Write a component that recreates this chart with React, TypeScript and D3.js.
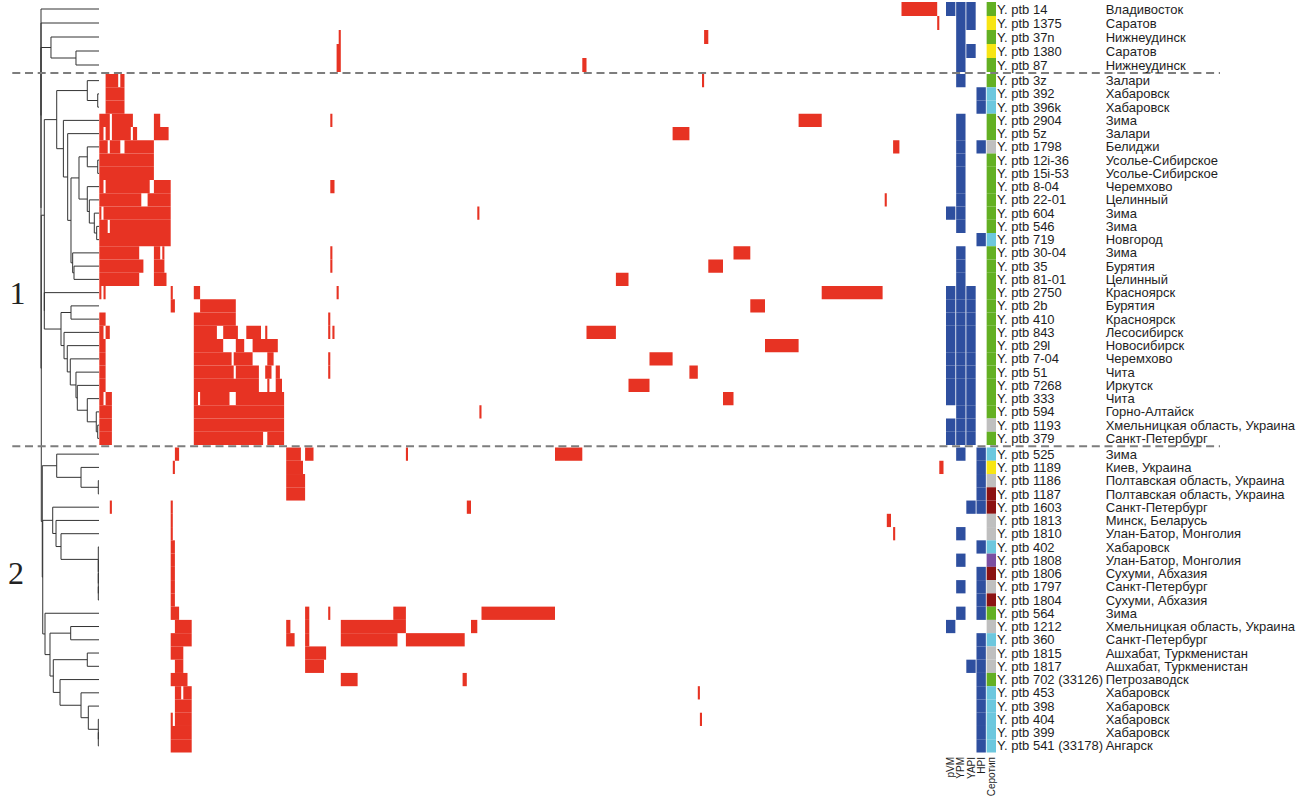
import React from "react";
import * as d3 from "d3";

const strains = ["Y. ptb 14","Y. ptb 1375","Y. ptb 37n","Y. ptb 1380","Y. ptb 87","Y. ptb 3z","Y. ptb 392","Y. ptb 396k","Y. ptb 2904","Y. ptb 5z","Y. ptb 1798","Y. ptb 12i-36","Y. ptb 15i-53","Y. ptb 8-04","Y. ptb 22-01","Y. ptb 604","Y. ptb 546","Y. ptb 719","Y. ptb 30-04","Y. ptb 35","Y. ptb 81-01","Y. ptb 2750","Y. ptb 2b","Y. ptb 410","Y. ptb 843","Y. ptb 29l","Y. ptb 7-04","Y. ptb 51","Y. ptb 7268","Y. ptb 333","Y. ptb 594","Y. ptb 1193","Y. ptb 379","Y. ptb 525","Y. ptb 1189","Y. ptb 1186","Y. ptb 1187","Y. ptb 1603","Y. ptb 1813","Y. ptb 1810","Y. ptb 402","Y. ptb 1808","Y. ptb 1806","Y. ptb 1797","Y. ptb 1804","Y. ptb 564","Y. ptb 1212","Y. ptb 360","Y. ptb 1815","Y. ptb 1817","Y. ptb 702 (33126)","Y. ptb 453","Y. ptb 398","Y. ptb 404","Y. ptb 399","Y. ptb 541 (33178)"];

const origins = ["Владивосток","Саратов","Нижнеудинск","Саратов","Нижнеудинск","Залари","Хабаровск","Хабаровск","Зима","Залари","Белиджи","Усолье-Сибирское","Усолье-Сибирское","Черемхово","Целинный","Зима","Зима","Новгород","Зима","Бурятия","Целинный","Красноярск","Бурятия","Красноярск","Лесосибирск","Новосибирск","Черемхово","Чита","Иркутск","Чита","Горно-Алтайск","Хмельницкая область, Украина","Санкт-Петербург","Зима","Киев, Украина","Полтавская область, Украина","Полтавская область, Украина","Санкт-Петербург","Минск, Беларусь","Улан-Батор, Монголия","Хабаровск","Улан-Батор, Монголия","Сухуми, Абхазия","Санкт-Петербург","Сухуми, Абхазия","Зима","Хмельницкая область, Украина","Санкт-Петербург","Ашхабат, Туркменистан","Ашхабат, Туркменистан","Петрозаводск","Хабаровск","Хабаровск","Хабаровск","Хабаровск","Ангарск"];

// serotype group per strain
const serotypes = ["g","y","g","y","g","g","lb","lb","g","g","gr","g","g","g","g","g","g","lb","g","g","g","g","g","g","g","g","g","g","g","g","g","gr","g","lb","y","gr","dr","dr","gr","gr","lb","pu","dr","gr","dr","g","gr","lb","gr","gr","g","lb","lb","lb","lb","lb"];
const serotypeKeys = ["g","y","lb","gr","dr","pu"];
const serotypeColors = ["#63b023","#f7e514","#6dc7de","#bfbfbf","#8b1212","#7b4fa2"];

// virulence markers: rows (1-based) where present
const markers = ["pVM","YPM","YAPI","HPI"];
const pVM = [1,16,22,23,24,25,26,27,28,29,30,32,33,47];
const YPM = [1,2,3,4,5,6,9,10,11,12,13,14,15,16,17,19,20,21,22,23,24,25,26,27,28,29,30,31,32,33,34,40,42,44,46];
const YAPI = [1,2,4,22,23,24,25,26,27,28,29,30,31,32,33,38,50];
const HPI = [7,8,11,18,34,35,36,37,38,41,43,44,45,46,48,49,50,51,52,53,54,55,56];
const markerRows = [pVM, YPM, YAPI, HPI];

// presence blocks in the gene matrix: [startColumn, endColumn) per strain
const nColumns = 402;
const presence: [number, number][][] = [
  [[382,399]],
  [[399,400]],
  [[114,115],[288,290]],
  [[113,115]],
  [[113,115],[230,232]],
  [[3,9],[10,12],[287,288]],
  [[3,12]],
  [[3,12]],
  [[0,5],[6,16],[26,29],[110,111],[333,344]],
  [[0,2],[3,5],[6,15],[16,18],[26,33],[273,281]],
  [[0,4],[5,10],[12,26],[378,381]],
  [[0,26]],
  [[0,26]],
  [[0,2],[3,24],[26,34],[110,112]],
  [[0,20],[23,34],[374,375]],
  [[0,1],[2,34],[180,181]],
  [[0,4],[5,34]],
  [[0,34]],
  [[0,19],[26,29],[30,31],[110,111],[302,310]],
  [[0,21],[26,31],[110,111],[290,297]],
  [[0,19],[26,32],[246,252]],
  [[0,1],[2,3],[34,35],[45,48],[113,114],[344,373]],
  [[34,36],[48,65],[310,317]],
  [[0,3],[45,65],[109,110]],
  [[0,2],[3,5],[45,56],[59,66],[70,77],[79,80],[109,110],[111,112],[232,246]],
  [[0,3],[45,59],[65,69],[73,85],[317,333]],
  [[0,3],[45,63],[64,73],[80,83],[109,110],[262,273]],
  [[0,3],[45,64],[65,76],[79,82],[84,86],[109,110],[281,285]],
  [[0,3],[45,76],[80,81],[84,87],[252,262]],
  [[0,2],[3,6],[45,47],[48,62],[65,88],[297,302]],
  [[0,6],[45,88],[181,182]],
  [[0,6],[45,88]],
  [[0,6],[45,78],[80,88]],
  [[36,38],[89,96],[98,102],[146,147],[217,230]],
  [[35,36],[89,97],[400,402]],
  [[89,98]],
  [[89,98]],
  [[5,6],[34,35],[175,177]],
  [[34,35],[375,377]],
  [[34,35],[378,379]],
  [[34,36]],
  [[34,36]],
  [[34,36]],
  [[34,36]],
  [[34,36]],
  [[34,38],[98,100],[109,110],[140,146],[182,217]],
  [[36,44],[89,91],[98,100],[115,146],[177,180]],
  [[34,44],[89,93],[98,100],[115,142],[146,174]],
  [[34,40],[98,108]],
  [[36,40],[98,107]],
  [[34,42],[115,123],[173,175]],
  [[36,39],[40,44],[285,286]],
  [[36,44]],
  [[34,35],[36,44],[286,287]],
  [[34,44]],
  [[34,44]],
];

// dendrogram: [distance, ...children], leaves are strain numbers (1-based)
type TNode = number | any[];
const F = [0.012, 41, [0.012, 42, [0.012, 43, [0.012, 44, 45]]]];
const D6 = [0.012, 54, [0.012, 55, 56]];
const D = [0.931, 46, [0.845, [0.488, 47, 48], [0.788, [0.202, 49, 50], [0.672, 51, [0.31, 52, [0.184, 53, D6]]]]]];
const E = [0.798, 38, [0.741, 39, [0.655, 40, F]]];
const C = [0.729, 34, [0.31, 35, [0.012, 36, 37]]];
const cluster2 = [0.978, C, [0.97, E, D]];
const B = [0.655, [0.483, 23, 24], [0.603, 25, [0.547, 26, [0.495, 27, [0.397, 28, [0.374, 29, [0.202, 30, [0.047, 31, [0.022, 32, 33]]]]]]]]];
const A5 = [0.345, [0.202, 11, [0.022, 12, 13]], [0.202, 14, [0.167, 15, [0.081, 16, [0.04, 17, 18]]]]];
const A = [0.729, [0.202, 6, [0.022, 7, 8]], [0.614, 9, [0.54, 10, [0.483, A5, [0.454, 19, [0.431, 20, 21]]]]]];
const cluster1 = [0.943, A, [0.943, 22, B]];
const tree: TNode = [1, 1, [1, 2, [1, [0.828, 3, [0.397, 4, 5]], [0.995, cluster1, cluster2]]]];

// cluster labels and the strain row they sit beside (1-based)
const clusterLabels = ["1", "2"];
const clusterLabelRows = [22, 43];

const rowGroups = [
  { from: 0, to: 5, y0: 2, y1: 72 },
  { from: 5, to: 33, y0: 74, y1: 445 },
  { from: 33, to: 56, y0: 447.5, y1: 752.5 },
];

export default function App() {
  const bands = rowGroups.map((g) =>
    d3.scaleBand<number>().domain(d3.range(g.from, g.to)).range([g.y0, g.y1])
  );
  const groupOf = (i: number) => rowGroups.findIndex((g) => i >= g.from && i < g.to);
  const rowTop = (i: number) => bands[groupOf(i)](i) as number;
  const rowH = (i: number) => bands[groupOf(i)].bandwidth();
  const rowMid = (i: number) => rowTop(i) + rowH(i) / 2;

  const xCol = d3.scaleLinear().domain([0, nColumns]).range([99.3, 943.5]);
  const xTree = d3.scaleLinear().domain([0, 1]).range([99, 41]);
  const xAnn = d3.scaleBand<string>().domain([...markers, "Серотип"]).range([946, 996]).paddingInner(0.08);
  const seroColor = d3.scaleOrdinal<string, string>().domain(serotypeKeys).range(serotypeColors);

  const lines: { x1: number; y1: number; x2: number; y2: number }[] = [];
  const walk = (n: TNode): { x: number; y: number } => {
    if (typeof n === "number") return { x: xTree(0), y: rowMid(n - 1) };
    const [d, ...kids] = n as any[];
    const x = xTree(d);
    const pts = kids.map(walk);
    pts.forEach((p) => lines.push({ x1: x, y1: p.y, x2: p.x, y2: p.y }));
    const ys = pts.map((p) => p.y);
    lines.push({ x1: x, y1: ys[0], x2: x, y2: ys[ys.length - 1] });
    return { x, y: (ys[0] + ys[ys.length - 1]) / 2 };
  };
  walk(tree);

  const sepYs = [
    (rowTop(4) + rowH(4) + rowTop(5)) / 2,
    (rowTop(32) + rowH(32) + rowTop(33)) / 2,
  ];

  const font = "'Liberation Sans', Arial, sans-serif";
  const serif = "'Liberation Serif', 'Times New Roman', serif";

  return (
    <svg width={1316} height={799} style={{ position: "absolute", left: 0, top: 0, background: "#fff" }}>
      <rect x={0} y={0} width={1316} height={799} fill="#fff" />
      {/* gene presence matrix */}
      <g>
        {presence.map((segs, i) =>
          segs.map(([s, e], k) => (
            <rect key={`r${i}-${k}`} x={xCol(s)} y={rowTop(i)} width={xCol(e) - xCol(s)} height={rowH(i)} fill="#e73323" />
          ))
        )}
      </g>
      {/* virulence markers */}
      <g>
        {markerRows.map((rows, m) =>
          rows.map((r) => (
            <rect key={`m${m}-${r}`} x={xAnn(markers[m])} y={rowTop(r - 1)} width={xAnn.bandwidth()} height={rowH(r - 1)} fill="#2e4f9f" />
          ))
        )}
        {serotypes.map((s, i) => (
          <rect key={`s${i}`} x={xAnn("Серотип")} y={rowTop(i)} width={xAnn.bandwidth()} height={rowH(i)} fill={seroColor(s)} />
        ))}
      </g>
      {/* dendrogram */}
      <g stroke="#333" strokeWidth={1} fill="none">
        {lines.map((l, i) => (
          <line key={`l${i}`} x1={l.x1} y1={l.y1} x2={l.x2} y2={l.y2} />
        ))}
      </g>
      {/* cluster separators */}
      {sepYs.map((y, i) => (
        <line key={`sep${i}`} x1={12.3} x2={1220} y1={y} y2={y} stroke="#7d7d7d" strokeWidth={1.8} strokeDasharray="8,4.7" />
      ))}
      {clusterLabels.map((t, i) => (
        <text key={`c${i}`} x={i === 0 ? 17.5 : 16} y={rowMid(clusterLabelRows[i] - 1) + 11} fontFamily={serif} fontSize={32} textAnchor="middle" fill="#222">{t}</text>
      ))}
      {/* labels */}
      <g fontFamily={font} fontSize={13} fill="#1e1e1e">
        {strains.map((s, i) => (
          <text key={`n${i}`} x={997} y={rowMid(i) + 4.6}>{s}</text>
        ))}
        {origins.map((s, i) => (
          <text key={`o${i}`} x={1105.7} y={rowMid(i) + 4.6}>{s}</text>
        ))}
      </g>
      <g fontFamily={font} fontSize={10} fill="#1e1e1e">
        {[...markers, "Серотип"].map((m) => (
          <text key={m} transform={`translate(${(xAnn(m) as number) + xAnn.bandwidth() / 2},757) rotate(-90)`} textAnchor="end" dy="0.35em">{m}</text>
        ))}
      </g>
    </svg>
  );
}
